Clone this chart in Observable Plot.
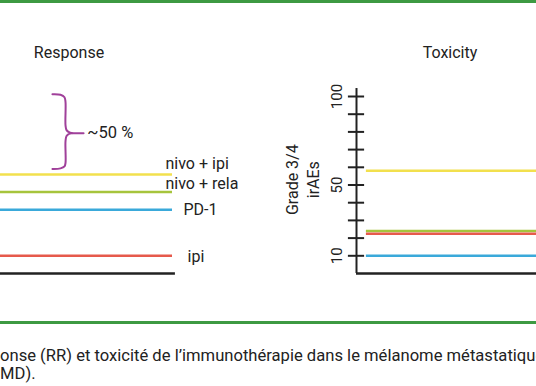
<!DOCTYPE html>
<html><head><meta charset="utf-8">
<script src="https://cdn.jsdelivr.net/npm/d3@7"></script>
<script src="https://cdn.jsdelivr.net/npm/@observablehq/plot@0.6"></script>
<style>
body{margin:0;background:#fff;font-family:Roboto, sans-serif;}
#wrap{position:relative;width:536px;height:386px;overflow:hidden;background:#fff;}
.rule{position:absolute;left:0;width:536px;height:3px;background:#3d9a42;}
.title{position:absolute;font-size:16px;color:#222;transform:translate(-50%,-50%);white-space:nowrap}
#left,#right{position:absolute;top:0}
#caption{position:absolute;left:0;top:347px;font-size:16.6px;line-height:18px;color:#222;white-space:nowrap}
</style></head>
<body>
<div id="wrap">
  <div class="rule" style="top:0px"></div>
  <div class="rule" style="top:321px"></div>
  <div class="title" style="left:69px;top:52px">Response</div>
  <div class="title" style="left:450px;top:52px">Toxicity</div>
  <div id="left"></div>
  <div id="right"></div>
  <div id="caption">onse (RR) et toxicité de l’immunothérapie dans le mélanome métastatique<br>MD).</div>
</div>
<script>
// ---- data ----
const treatments = ["nivo + ipi", "nivo + rela", "PD-1", "ipi"];
const responseRate = [56, 46, 36, 10];      // % response (left panel)
const toxicityRate = [58, 24, 10, 22.5];    // % grade 3/4 irAEs (right panel)
const colors = ["#f2e04e", "#a6c43c", "#3aa9da", "#e65a4c"];
const yTicks = [10, 20, 30, 40, 50, 60, 70, 80, 90, 100];
const yTickLabels = [100, 50, 10];
const yAxisTitle = "Grade 3/4\nirAEs";
const braceLabel = "~50 %";
// brace outline, in data units (x fraction of panel, y in %)
const braceX = [0.302, 0.349, 0.372, 0.378, 0.378, 0.384, 0.401, 0.419, 0.401, 0.384, 0.378, 0.378, 0.372, 0.349, 0.302];
const braceY = [101.3, 101.0, 99.6, 96.8, 83.8, 81.0, 79.7, 79.3, 79.0, 77.7, 74.8, 62.5, 60.5, 59.4, 59.1];
const braceTailX = [0.419, 0.483];
const braceTailY = [79.3, 79.3];

// label placement (style only)
const labelOffsets = [[-7, -11], [-7, -8], [11, 0], [15, 1]];

const rows = treatments.map((t, i) => ({t, resp: responseRate[i], tox: toxicityRate[i], color: colors[i], dx: labelOffsets[i][0], dy: labelOffsets[i][1]}));
const brace = braceX.map((x, i) => ({x, y: braceY[i]}));
const tail = braceTailX.map((x, i) => ({x, y: braceTailY[i]}));

const common = {
  height: 300, marginTop: 96, marginBottom: 27,
  x: {domain: [0, 1], axis: null},
  y: {domain: [0, 100], axis: null},
  style: {fontFamily: "Roboto, sans-serif", fontSize: "16px", color: "#222", background: "transparent"}
};

const left = Plot.plot({
  ...common,
  width: 260, marginLeft: 0, marginRight: 88,
  marks: [
    Plot.ruleY(rows, {y: "resp", x1: 0, x2: 1, stroke: "color", strokeWidth: 2.5}),
    Plot.ruleY([0], {x1: 0, x2: 1.017, stroke: "#222", strokeWidth: 2.5}),
    ...rows.map(r => Plot.text([r], {x: () => 1, y: "resp", text: "t", dx: r.dx, dy: r.dy, textAnchor: "start", fontSize: 16, fill: "#222"})),
    Plot.line(brace, {x: "x", y: "y", curve: "catmull-rom", stroke: "#a0409a", strokeWidth: 2}),
    Plot.line(tail, {x: "x", y: "y", stroke: "#a0409a", strokeWidth: 2}),
    Plot.text([braceLabel], {x: () => 0.505, y: () => 79.3, text: d => d, textAnchor: "start", fontSize: 16.5, fill: "#222"})
  ]
});
document.getElementById("left").append(left);

const right = Plot.plot({
  ...common,
  width: 256, marginLeft: 76, marginRight: 0,
  marks: [
    Plot.ruleY(rows, {y: "tox", x1: 0.055, x2: 1, stroke: "color", strokeWidth: 2.5}),
    Plot.ruleY([0], {stroke: "#222", strokeWidth: 2.5}),
    Plot.ruleX([0], {y1: 0, y2: 104.5, stroke: "#222", strokeWidth: 2}),
    Plot.ruleY(yTicks, {x1: -0.045, x2: 0.045, stroke: "#222", strokeWidth: 2}),
    Plot.text(yTickLabels, {x: () => 0, y: d => d, text: d => String(d), dx: -19, rotate: -90, textAnchor: "middle", lineAnchor: "middle", fontSize: 15, fill: "#222"}),
    Plot.text([yAxisTitle], {x: () => 0, y: () => 53, text: d => d, dx: -55, rotate: -90, textAnchor: "middle", lineAnchor: "middle", lineHeight: 1.35, fontSize: 16, fill: "#222"})
  ]
});
document.getElementById("right").style.left = "280px";
document.getElementById("right").append(right);
</script>
</body></html>
